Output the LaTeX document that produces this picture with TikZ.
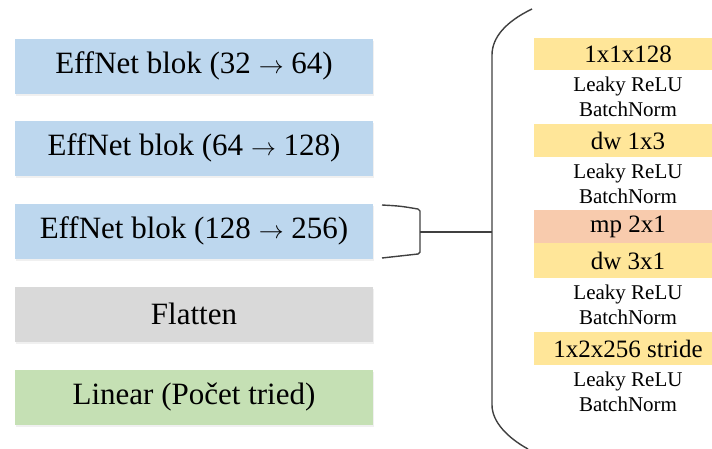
\documentclass[tikz,border=0pt]{standalone}
\usepackage{fontspec}
\setmainfont{LiberationSerif}[Extension=.ttf, UprightFont=*-Regular, BoldFont=*-Bold]
\usetikzlibrary{shadows}
\definecolor{cblue}{HTML}{BDD7EE}
\definecolor{cgrey}{HTML}{D9D9D9}
\definecolor{cgreen}{HTML}{C5E0B4}
\definecolor{cyel}{HTML}{FFE699}
\definecolor{corange}{HTML}{F8CBAD}
\definecolor{cline}{HTML}{404040}
\tikzset{
  lbox/.style={minimum width=358pt, minimum height=55pt, inner sep=0pt, font=\fontsize{31}{34}\selectfont,
    drop shadow={opacity=0.12, shadow xshift=1pt, shadow yshift=-2pt}},
  hrow/.style={minimum width=188pt, inner sep=0pt, anchor=north, font=\fontsize{25}{27}\selectfont, fill=cyel},
  wrow/.style={minimum width=188pt, inner sep=0pt, anchor=north, font=\fontsize{21}{25}\selectfont, fill=white, align=center},
  brk/.style={draw=cline, line width=1.4pt}
}
\begin{document}
\begin{tikzpicture}[x=1pt,y=-1pt]
\useasboundingbox (0,0) rectangle (712,448);
\clip (0,0) rectangle (712,448);
\node[lbox, fill=cblue] (b1) at (194,66) {EffNet blok (32 $\rightarrow$ 64)};
\node[lbox, fill=cblue] (b2) at (194,148) {EffNet blok (64 $\rightarrow$ 128)};
\node[lbox, fill=cblue] (b3) at (194,231) {EffNet blok (128 $\rightarrow$ 256)};
\node[lbox, fill=cgrey] (b4) at (194,314) {Flatten};
\node[lbox, fill=cgreen] (b5) at (194,397) {Linear (Počet tried)};

\node[hrow, minimum height=32pt] (r1) at (628,38) {1x1x128};
\node[wrow, minimum height=54pt] (r2) at (628,70) {Leaky ReLU\\BatchNorm};
\node[hrow, minimum height=33pt] (r3) at (628,124) {dw 1x3};
\node[wrow, minimum height=53pt] (r4) at (628,157) {Leaky ReLU\\BatchNorm};
\node[hrow, minimum height=33pt, fill=corange] (r5) at (628,210) {mp 2x1};
\node[hrow, minimum height=35pt] (r6) at (628,243) {dw 3x1};
\node[wrow, minimum height=54pt] (r7) at (628,278) {Leaky ReLU\\BatchNorm};
\node[hrow, minimum height=33pt] (r8) at (628,332) {1x2x256 stride};
\node[wrow, minimum height=53pt] (r9) at (628,365) {Leaky ReLU\\BatchNorm};

% small bracket
\coordinate (sb) at (420,232);
\draw[brk] (382,205) .. controls (400,206) .. (418,209) -- (420,211) -- (420,252) -- (418,254) .. controls (400,256) .. (382,258);
% big bracket
\coordinate (bb) at (492,232);
\draw[brk] (532,9) .. controls (505,22) and (492,38) .. (492,55) -- (492,405) .. controls (492,422) and (508,438) .. (528,449);
\draw[brk] (sb) -- (bb);
\end{tikzpicture}
\end{document}
